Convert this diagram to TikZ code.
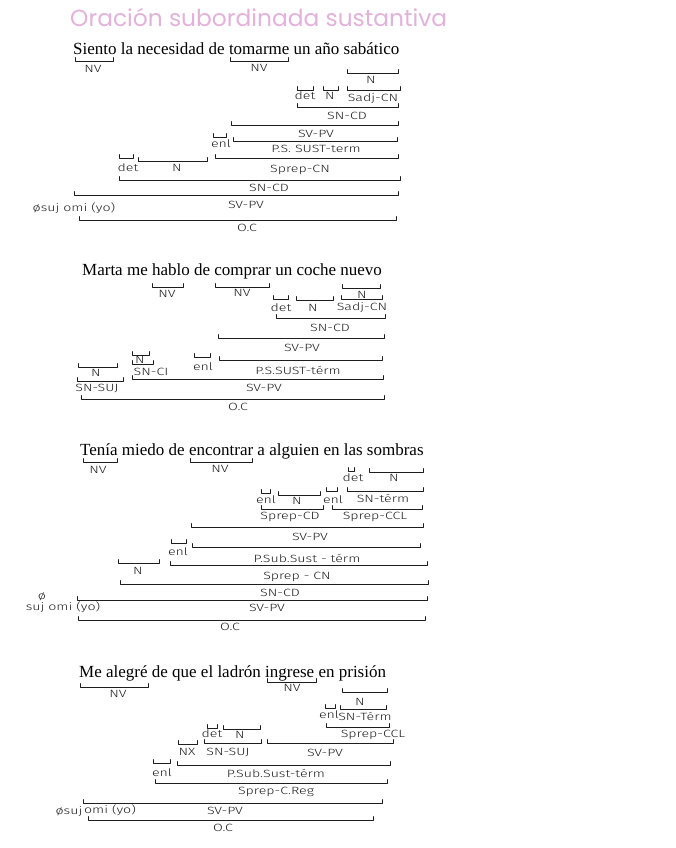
\documentclass[tikz,border=0pt]{standalone}
\usepackage{fontspec}
\setmainfont{Liberation Serif}
\newfontfamily\handfont[FakeStretch=1.35]{Fira Sans Light}
\newfontfamily\titlefont{Poppins}
\definecolor{ink}{RGB}{30,30,30}
\definecolor{titlepink}{RGB}{226,178,218}
\newcounter{lblc}
\newcommand\brl[6]{%
  \draw[brk] (#1,#3-3.5) -- (#1,#3) -- (#2,#3) -- (#2,#3-3.5);
  \stepcounter{lblc}%
  \node[lab] (lab\arabic{lblc}) at (#4,#5) {#6};}
\tikzset{
  brk/.style={draw=ink, line width=0.6pt, line cap=round, line join=round},
  lab/.style={inner sep=0pt, text=ink, font=\handfont\fontsize{10.5}{11}\selectfont},
  sent/.style={inner sep=0pt, anchor=base west, font=\fontsize{17}{20}\selectfont},
}
\begin{document}
\begin{tikzpicture}[x=1pt, y=-1pt]
\useasboundingbox (0,0) rectangle (675,848);
\fill[white] (0,0) rectangle (675,848);
% title
\node[inner sep=0pt, anchor=west, text=titlepink] (title) at (70,17)
  {\resizebox{377pt}{!}{\titlefont Oración subordinada sustantiva}};

% ---------- sentence 1 ----------
\node[sent] (s1) at (73,55) {Siento la necesidad de tomarme un año sabático};
\brl{75}{113}{61}{93}{69}{NV}
\brl{230}{288}{61}{259}{68}{NV}
\brl{347}{398}{73}{371}{80}{N}
\brl{297}{313}{90}{305}{96}{det}
\brl{323}{338}{90}{330}{96}{N}
\brl{347}{400}{90}{373}{99}{Sadj-CN}
\brl{297}{398}{107}{347}{116}{SN-CD}
\brl{231}{398}{125}{316}{134}{SV-PV}
\brl{213}{226}{137}{221}{144}{enl}
\brl{233}{397}{141}{316}{149}{P.S. SUST-term}
\brl{119}{133}{158}{128}{168}{det}
\brl{138}{207}{161}{177}{168}{N}
\brl{215}{398}{158}{300}{170}{Sprep-CN}
\brl{119}{400}{180}{269}{188}{SN-CD}
\brl{74}{398}{195}{246}{205}{SV-PV}
\node[lab] (omi1) at (74,208) {øsuj omi (yo)};
\brl{79}{396}{220}{247}{228}{O.C}

% ---------- sentence 2 ----------
\node[sent] (s2) at (82,275) {Marta me hablo de comprar un coche nuevo};
\brl{152}{183}{287}{167}{294}{NV}
\brl{215}{269}{287}{242}{293}{NV}
\brl{342}{380}{288}{362}{295}{N}
\brl{273}{288}{299}{281}{308}{det}
\brl{296}{333}{300}{313}{308}{N}
\brl{341}{382}{299}{362}{308}{Sadj-CN}
\brl{276}{385}{318}{330}{328}{SN-CD}
\brl{218}{384}{338}{302}{348}{SV-PV}
\brl{132}{149}{355}{140}{360}{N}
\brl{132}{153}{364}{151}{372}{SN-CI}
\brl{194}{210}{357}{203}{367}{enl}
\brl{219}{382}{360}{298}{370}{P.S.SUST-térm}
\brl{78}{117}{367}{96}{373}{N}
\brl{77}{123}{381}{97}{388}{SN-SUJ}
\brl{132}{383}{379}{264}{388}{SV-PV}
\brl{81}{384}{399}{238}{407}{O.C}

% ---------- sentence 3 ----------
\node[sent] (s3) at (80,455) {Tenía miedo de encontrar a alguien en las sombras};
\brl{83}{117}{462}{98}{470}{NV}
\brl{190}{252}{462}{220}{469}{NV}
\brl{348}{354}{471}{353}{478}{det}
\brl{369}{423}{472}{394}{478}{N}
\brl{261}{270}{493}{266}{500}{enl}
\brl{278}{320}{495}{297}{501}{N}
\brl{326}{337}{491}{333}{500}{enl}
\brl{347}{423}{491}{383}{498}{SN-térm}
\brl{261}{323}{509}{290}{517}{Sprep-CD}
\brl{332}{422}{509}{375}{517}{Sprep-CCL}
\brl{191}{423}{527}{310}{537}{SV-PV}
\brl{171}{186}{543}{178}{552}{enl}
\brl{192}{420}{547}{307}{558}{P.Sub.Sust - térm}
\brl{118}{159}{563}{138}{571}{N}
\brl{170}{427}{565}{297}{577}{Sprep - CN}
\brl{120}{428}{584}{280}{593}{SN-CD}
\brl{77}{427}{600}{267}{608}{SV-PV}
\node[lab] (phi3) at (42,597) {ø};
\node[lab] (omi3) at (63,607) {suj omi (yo)};
\brl{78}{425}{620}{230}{627}{O.C}

% ---------- sentence 4 ----------
\node[sent] (s4) at (79,677) {Me alegré de que el ladrón ingrese en prisión};
\brl{80}{148}{687}{118}{694}{NV}
\brl{267}{316}{682}{292}{688}{NV}
\brl{342}{387}{692}{360}{702}{N}
\brl{325}{335}{708}{329}{715}{enl}
\brl{340}{386}{709}{365}{716}{SN-Térm}
\brl{326}{389}{727}{373}{735}{Sprep-CCL}
\brl{207}{217}{728}{212}{734}{det}
\brl{223}{260}{729}{240}{735}{N}
\brl{178}{197}{744}{187}{752}{NX}
\brl{204}{261}{743}{228}{752}{SN-SUJ}
\brl{267}{393}{743}{325}{753}{SV-PV}
\brl{153}{170}{763}{162}{773}{enl}
\brl{177}{390}{765}{276}{773}{P.Sub.Sust-térm}
\brl{155}{387}{783}{276}{792}{Sprep-C.Reg}
\brl{83}{382}{803}{225}{811}{SV-PV}
\node[lab] (phi4) at (69,812) {øsuj};
\node[lab] (omi4) at (110,810) {omi (yo)};
\brl{88}{373}{820}{223}{828}{O.C}
\end{tikzpicture}
\end{document}
